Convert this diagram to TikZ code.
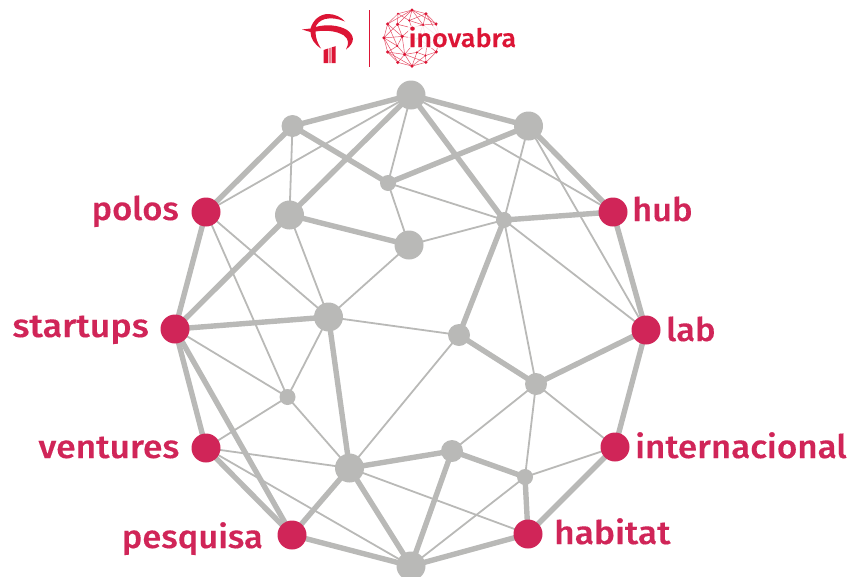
\documentclass[tikz,border=0pt]{standalone}
\usepackage{fontspec}
\setmainfont{Fira Sans}
\newfontfamily\labelfont{Fira Sans Medium}[FakeStretch=1.06,FakeBold=0.25]
\definecolor{netgray}{HTML}{B9B9B7}
\definecolor{labelred}{HTML}{D02558}
\definecolor{logored}{HTML}{DC1535}
\definecolor{logopink}{HTML}{EE7F90}
\tikzset{
  dot/.style={circle,fill=netgray,inner sep=0pt,minimum size=#1},
  reddot/.style={circle,fill=labelred,inner sep=0pt,minimum size=29pt},
  biglink/.style={draw=netgray,line width=5.4pt},
  thinlink/.style={draw=netgray,line width=1.8pt},
  lab/.style={text=labelred,font=\fontsize{32.5}{33}\labelfont,inner sep=0pt},
  minilink/.style={draw=logored!75,line width=.5pt},
  minidot/.style={circle,fill=logored,inner sep=0pt,minimum size=#1},
}
\newcommand{\allpts}{T/411/95,a/292.5/126,b/528.5/126,c/388/183,polos/206/212,d/289.5/215,e/409/245,f/504/220,hub/613/212,g/328.5/317,h/459/335,startups/175/329,lab/646/330,i/536/384,j/287.5/397,ventures/206/448,intern/615/447,k/349.5/468,l/452/451,m/525/477,pesquisa/292/535,habitat/528/534,B/411/566}
\newcommand{\thicklinks}{T/a,T/b,a/polos,a/c,c/b,T/d,d/startups,T/f,d/e,f/hub,hub/b,hub/lab,f/h,h/i,i/lab,lab/intern,intern/habitat,m/habitat,l/m,k/l,l/B,habitat/B,k/B,k/pesquisa,pesquisa/B,startups/g,g/k,startups/ventures,startups/pesquisa,ventures/pesquisa,polos/startups}
\newcommand{\thinlinks}{T/polos,a/d,T/c,c/e,c/f,T/hub,b/f,b/lab,f/lab,f/e,f/i,polos/g,polos/j,d/g,e/g,g/h,g/j,h/k,startups/j,j/ventures,j/k,ventures/k,ventures/B,k/habitat,i/l,i/m,i/intern,m/intern,m/B}
\begin{document}
\begin{tikzpicture}[x=1pt,y=-1pt]
\useasboundingbox (0,0) rectangle (851,576);
\clip (0,0) rectangle (851,576);
% main network
\foreach \n/\x/\y in \allpts {\coordinate (\n) at (\x,\y);}
\foreach \p/\q in \thinlinks {\path[thinlink] (\p) -- (\q);}
\foreach \p/\q in \thicklinks {\path[biglink] (\p) -- (\q);}
\foreach \n/\s in {T/29,a/22,b/29,c/16,d/29,e/29,f/16,g/29,h/22,i/22,j/16,k/29,l/22,m/16,B/29}
  {\node[dot=\s pt] at (\n) {};}
\foreach \n in {polos,hub,startups,lab,ventures,intern,pesquisa,habitat}
  {\node[reddot] at (\n) {};}
% labels
\node[lab,anchor=base east] (tpolos) at (179,220) {polos};
\node[lab,anchor=base east] (tstartups) at (149,337) {\scalebox{1.04}[1]{startups}};
\node[lab,anchor=base east] (tventures) at (179.5,458) {\scalebox{1.03}[1]{ventures}};
\node[lab,anchor=base east] (tpesquisa) at (263,548) {pesquisa};
\node[lab,anchor=base west] (thub) at (632,221) {hub};
\node[lab,anchor=base west] (tlab) at (666,341) {lab};
\node[lab,anchor=base west] (tintern) at (635,458) {\scalebox{1.015}[1]{internacional}};
\node[lab,anchor=base west] (thabitat) at (554,544) {\scalebox{1.025}[1]{habitat}};
% mini network in the logo
\begin{scope}[shift={(412,38)},x=0.119pt,y=-0.119pt]
\foreach \n/\x/\y in \allpts {\coordinate (m\n) at ({\x-411},{\y-330});}
\foreach \p/\q in \thinlinks {\path[minilink] (m\p) -- (m\q);}
\foreach \p/\q in \thicklinks {\path[minilink] (m\p) -- (m\q);}
\foreach \n in {T,b,d,e,g,k,B,polos,hub,startups,lab,ventures,intern,pesquisa,habitat}
  {\node[minidot=3.4pt] at (m\n) {};}
\foreach \n in {a,c,f,h,i,j,l,m}
  {\node[minidot=2.2pt] at (m\n) {};}
\end{scope}
\node[anchor=base west,text=logored,fill=white,fill opacity=.85,text opacity=1,inner sep=.5pt,font=\fontsize{25.5}{25.5}\labelfont] (tinova) at (408,47) {inovabra};
% divider
\draw[logored,line width=1pt] (369,10) -- (369,67);
% bank logo
\fill[logored] (302,29.5) -- (310.5,28.5) .. controls (313,20) and (320,14) .. (328,14) .. controls (335,14) and (341,17) .. (345,21.5) .. controls (338,18.5) and (331,17.5) .. (325,19) .. controls (320,20.5) and (317,23.5) .. (315.5,27) .. controls (326,24) and (339,25) .. (347,30) .. controls (354,35) and (356,42) .. (346,49.5) .. controls (349,44) and (349,39) .. (344,35.5) .. controls (336,30.5) and (325,30) .. (315.5,31.5) .. controls (315.5,38) and (317.5,43) .. (321,48.5) .. controls (314,44) and (310.5,38) .. (310.5,32) -- cycle;
\fill[logored] (323.5,50) -- (328,48.5) -- (328,63) -- (323.5,63) -- cycle;
\fill[logopink] (328.7,48.3) -- (331,47.6) -- (331,63) -- (328.7,63) -- cycle;
\fill[logored] (331.7,47.4) -- (335.5,46.2) -- (335.5,63) -- (331.7,63) -- cycle;
\end{tikzpicture}
\end{document}
